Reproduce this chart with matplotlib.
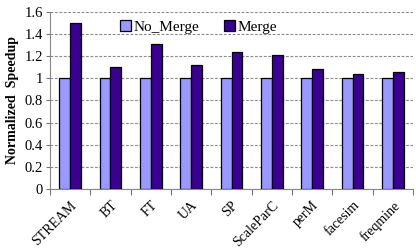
import matplotlib
matplotlib.use("Agg")
import matplotlib.pyplot as plt
import numpy as np

categories = ["STREAM", "BT", "FT", "UA", "SP", "ScaleParC", "perM", "facesim", "freqmine"]
no_merge = [1.0, 1.0, 1.0, 1.0, 1.0, 1.0, 1.0, 1.0, 1.0]
merge = [1.50, 1.10, 1.31, 1.12, 1.24, 1.21, 1.085, 1.04, 1.06]
yticks = [0, 0.2, 0.4, 0.6, 0.8, 1, 1.2, 1.4, 1.6]
ytick_labels = ["0", "0.2", "0.4", "0.6", "0.8", "1", "1.2", "1.4", "1.6"]

plt.rcParams['font.family'] = ['Liberation Serif', 'DejaVu Serif']

fig = plt.figure(figsize=(4.16, 2.49), dpi=100)
ax = fig.add_axes([0.120, 0.241, 0.873, 0.711])

x = np.arange(len(categories))
w = 0.27
c1 = "#9999FF"
c2 = "#3A0090"
ax.bar(x - w/2, no_merge, w, color=c1, edgecolor="black", linewidth=0.9, label="No_Merge", zorder=3)
ax.bar(x + w/2, merge, w, color=c2, edgecolor="black", linewidth=0.9, label="Merge", zorder=3)

ax.set_xlim(-0.5, len(categories) - 0.5)
ax.set_ylim(0, 1.6)
ax.set_yticks(yticks)
ax.set_yticklabels(ytick_labels, fontsize=10.5)
ax.yaxis.grid(True, linestyle=(0, (2.5, 1.5)), color="#8a8a8a", linewidth=0.8, zorder=0)

ax.set_xticks(x)
ax.set_xticklabels(categories, rotation=45, ha="right", rotation_mode="anchor", fontsize=10)
ax.tick_params(axis="x", which="major", length=0, pad=7)
ax.set_xticks(np.arange(-0.5, len(categories)), minor=True)
ax.tick_params(axis="x", which="minor", length=4, width=0.8, direction="out", color="#777777")
ax.tick_params(axis="y", length=3, width=0.8, direction="out", pad=2, color="#777777")

for s in ["top", "right"]:
    ax.spines[s].set_visible(False)
ax.spines["left"].set_color("#888888")
ax.spines["bottom"].set_color("#888888")

ax.set_ylabel("Normalized  Speedup", fontsize=10, fontweight="bold", labelpad=4)

ax.legend(loc="upper center", bbox_to_anchor=(0.41, 0.99), ncol=2, frameon=False, fontsize=11,
          handlelength=0.7, handleheight=0.7, handletextpad=0.2, columnspacing=1.6, borderaxespad=0)

fig.savefig("out.png", dpi=100)
